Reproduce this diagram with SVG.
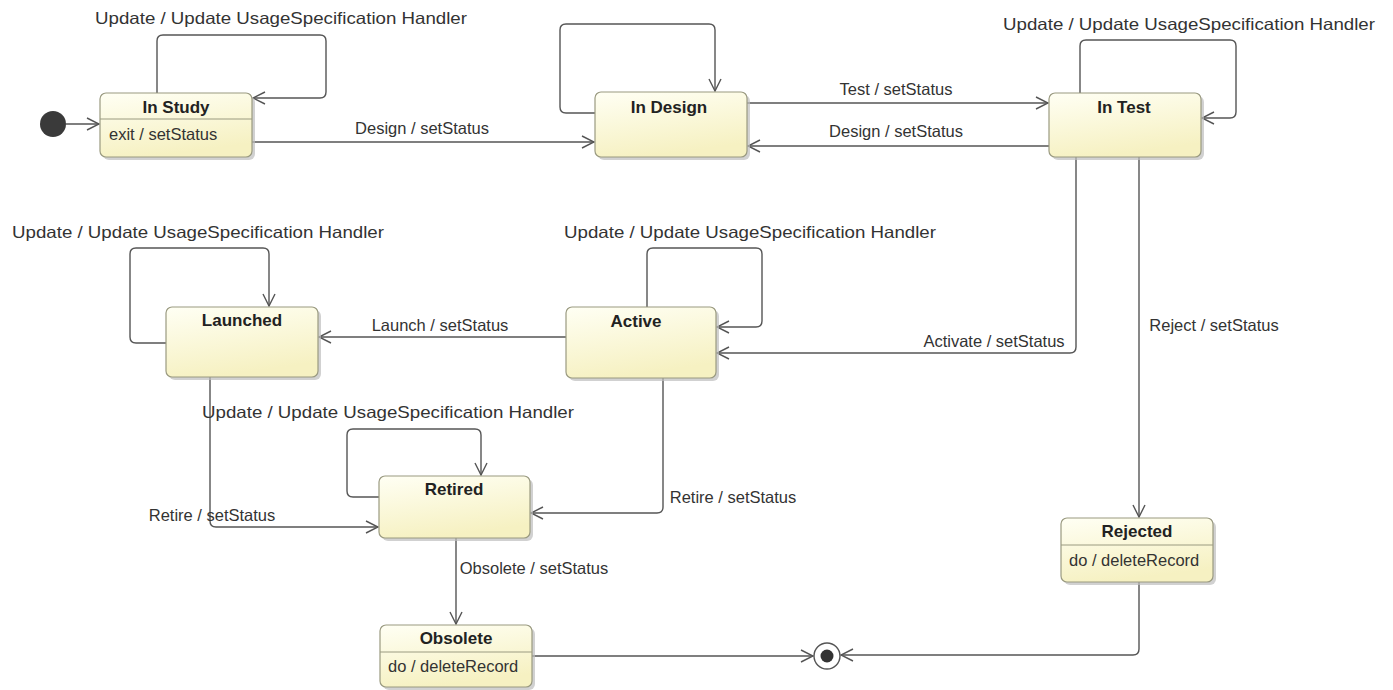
<svg xmlns="http://www.w3.org/2000/svg" width="1393" height="690" viewBox="0 0 1393 690">
<style>
text{font-family:"Liberation Sans",Arial,sans-serif;fill:#333}
.lbl{font-size:16.5px;text-anchor:middle}
.ttl{font-size:17px;font-weight:bold;text-anchor:middle;fill:#222}
.body{font-size:16.5px}
.box{fill:url(#g);stroke:#9a9a80;stroke-width:1.2}
.shd{fill:#bdbdbd;opacity:0.7}
.div{stroke:#9a9a80;stroke-width:1}
.c{fill:none;stroke:#555;stroke-width:1.4;marker-end:url(#a)}
</style>
<defs>
<linearGradient id="g" x1="0" y1="0" x2="0.3" y2="1">
<stop offset="0" stop-color="#fffff4"/>
<stop offset="1" stop-color="#f6f1c2"/>
</linearGradient>
<marker id="a" viewBox="0 0 14 14" refX="13" refY="7" markerWidth="14" markerHeight="14" markerUnits="userSpaceOnUse" orient="auto">
<path d="M1,1 L13,7 L1,13" fill="none" stroke="#555" stroke-width="1.4"/>
</marker>
</defs>
<rect width="1393" height="690" fill="#fff"/>
<g id="connectors">
<line class="c" x1="66" y1="124" x2="99" y2="124"/>
<path class="c" d="M157,93 V41 Q157,35 163,35 H320 Q326,35 326,41 V92 Q326,98 320,98 H253"/>
<line class="c" x1="252" y1="142" x2="594" y2="142"/>
<path class="c" d="M595,113 H566 Q560,113 560,107 V30 Q560,24 566,24 H709 Q715,24 715,30 V91"/>
<line class="c" x1="747" y1="103" x2="1048" y2="103"/>
<line class="c" x1="1049" y1="146" x2="748" y2="146"/>
<path class="c" d="M1080,93 V46 Q1080,40 1086,40 H1230 Q1236,40 1236,46 V112 Q1236,118 1230,118 H1202"/>
<path class="c" d="M1076,157 V347 Q1076,353 1070,353 H717"/>
<line class="c" x1="1139" y1="157" x2="1139" y2="517"/>
<path class="c" d="M566,337 H319"/>
<path class="c" d="M166,343 H136 Q130,343 130,337 V254 Q130,248 136,248 H263 Q269,248 269,254 V306"/>
<path class="c" d="M647,307 V254 Q647,248 653,248 H756 Q762,248 762,254 V321 Q762,327 756,327 H717"/>
<path class="c" d="M210,377 V521 Q210,527 216,527 H378"/>
<path class="c" d="M663,378 V507 Q663,513 657,513 H531"/>
<path class="c" d="M379,497 H353 Q347,497 347,491 V435 Q347,429 353,429 H475 Q481,429 481,435 V475"/>
<line class="c" x1="456" y1="538" x2="456" y2="624"/>
<line class="c" x1="532" y1="656" x2="813" y2="656"/>
<path class="c" d="M1139,582 V649 Q1139,655 1133,655 H841"/>
</g>
<g id="initial"><circle cx="53" cy="124" r="13" fill="#3a3a3a"/></g>
<g id="final"><circle cx="827" cy="656" r="13" fill="#fff" stroke="#555" stroke-width="1.4"/><circle cx="827" cy="656" r="6.5" fill="#333"/></g>
<g id="inStudy"><rect class="shd" x="103" y="96" width="152" height="64" rx="6"/><rect class="box" x="100" y="93" width="152" height="64" rx="6"/><line class="div" x1="100" y1="119" x2="252" y2="119"/><text class="ttl" x="176" y="113">In Study</text><text class="body" x="109" y="140">exit / setStatus</text></g>
<g id="inDesign"><rect class="shd" x="598" y="95" width="152" height="65" rx="6"/><rect class="box" x="595" y="92" width="152" height="65" rx="6"/><text class="ttl" x="669" y="113">In Design</text></g>
<g id="inTest"><rect class="shd" x="1052" y="96" width="152" height="64" rx="6"/><rect class="box" x="1049" y="93" width="152" height="64" rx="6"/><text class="ttl" x="1124" y="113">In Test</text></g>
<g id="launched"><rect class="shd" x="169" y="310" width="152" height="70" rx="6"/><rect class="box" x="166" y="307" width="152" height="70" rx="6"/><text class="ttl" x="242" y="326">Launched</text></g>
<g id="active"><rect class="shd" x="569" y="310" width="150" height="71" rx="6"/><rect class="box" x="566" y="307" width="150" height="71" rx="6"/><text class="ttl" x="636" y="327">Active</text></g>
<g id="retired"><rect class="shd" x="382" y="479" width="151" height="62" rx="6"/><rect class="box" x="379" y="476" width="151" height="62" rx="6"/><text class="ttl" x="454" y="495">Retired</text></g>
<g id="obsolete"><rect class="shd" x="383" y="628" width="152" height="62" rx="6"/><rect class="box" x="380" y="625" width="152" height="62" rx="6"/><line class="div" x1="380" y1="652" x2="532" y2="652"/><text class="ttl" x="456" y="644">Obsolete</text><text class="body" x="388" y="672">do / deleteRecord</text></g>
<g id="rejected"><rect class="shd" x="1064" y="521" width="152" height="64" rx="6"/><rect class="box" x="1061" y="518" width="152" height="64" rx="6"/><line class="div" x1="1061" y1="545" x2="1213" y2="545"/><text class="ttl" x="1137" y="537">Rejected</text><text class="body" x="1069" y="566">do / deleteRecord</text></g>
<g id="labels">
<text class="lbl" x="281" y="24" textLength="372" lengthAdjust="spacingAndGlyphs">Update / Update UsageSpecification Handler</text>
<text class="lbl" x="422" y="134">Design / setStatus</text>
<text class="lbl" x="896" y="95">Test / setStatus</text>
<text class="lbl" x="896" y="137">Design / setStatus</text>
<text class="lbl" x="1189" y="30" textLength="372" lengthAdjust="spacingAndGlyphs">Update / Update UsageSpecification Handler</text>
<text class="lbl" x="198" y="238" textLength="372" lengthAdjust="spacingAndGlyphs">Update / Update UsageSpecification Handler</text>
<text class="lbl" x="750" y="238" textLength="372" lengthAdjust="spacingAndGlyphs">Update / Update UsageSpecification Handler</text>
<text class="lbl" x="440" y="331">Launch / setStatus</text>
<text class="lbl" x="994" y="347">Activate / setStatus</text>
<text class="lbl" x="1214" y="331">Reject / setStatus</text>
<text class="lbl" x="388" y="418" textLength="372" lengthAdjust="spacingAndGlyphs">Update / Update UsageSpecification Handler</text>
<text class="lbl" x="212" y="521">Retire / setStatus</text>
<text class="lbl" x="733" y="503">Retire / setStatus</text>
<text class="lbl" x="534" y="574">Obsolete / setStatus</text>
</g>
</svg>
